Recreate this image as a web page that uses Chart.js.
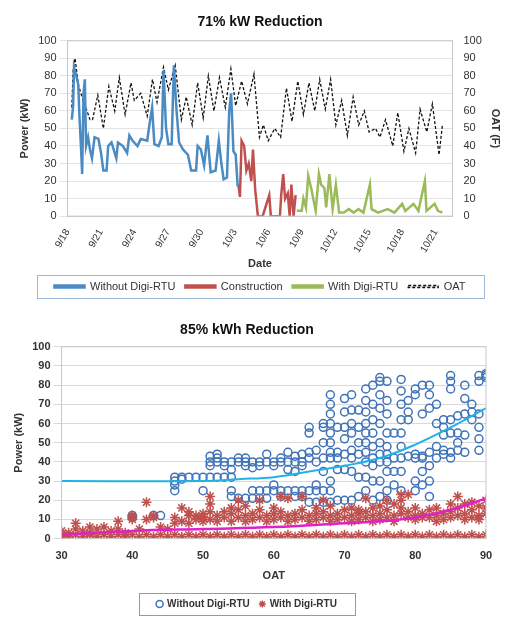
<!DOCTYPE html>
<html>
<head>
<meta charset="utf-8">
<script src="https://cdn.jsdelivr.net/npm/chart.js@4/dist/chart.umd.min.js"></script>
<style>
body { margin:0; background:#fff; }
#top { position:absolute; left:0; top:0; width:514px; height:318px; }
#bot { position:absolute; left:0; top:312px; width:514px; height:313px; }
</style>
</head>
<body>
<div id="top"><canvas id="kwGraph"></canvas></div>
<div id="bot"><canvas id="oatGraph"></canvas></div>
<script>
// ---- top chart: days after 9/18 ----
const dateLabels = ['9/18','9/21','9/24','9/27','9/30','10/3','10/6','10/9','10/12','10/15','10/18','10/21'];

const oatDays = [0.38,0.5,0.67,0.79,0.96,1.2,1.55,1.75,2.01,2.24,2.71,3.21,3.7,4.23,4.64,5.16,5.69,5.98,6.56,7.14,7.61,8.02,8.6,9.04,9.65,10.2,10.64,11.17,11.66,12.16,12.62,13.12,13.62,14.14,14.64,15.07,15.6,16.12,16.71,17.2,17.55,17.99,18.57,19.1,19.62,20.12,20.64,21.14,21.64,22.16,22.6,23.1,23.58,24.05,24.57,25.08,25.6,26.1,26.6,27.03,27.6,28.0,28.5,29.15,29.6,30.15,30.6,31.2,31.6,32.2,32.7,33.3,33.6];
const oatVals = [62,83,90,84,75,70,63,60,55,55,69,50,74,60,79,58,76,66,70,57,78,65,85,72,86,55,68,52,76,56,80,60,79,62,84,63,77,64,81,45,52,43,50,45,73,54,77,58,76,60,78,61,78,52,66,46,68,52,60,48,50,45,55,40,59,37,50,36,61,48,64,35,52];

const blueDays = [0.38,0.5,0.58,0.79,0.96,1.08,1.2,1.31,1.43,1.55,1.66,1.84,2.01,2.19,2.42,2.77,3.0,3.21,3.5,3.64,3.94,4.37,4.52,4.96,5.34,5.54,5.83,6.27,6.56,7.14,7.29,7.58,7.78,8.16,8.45,8.6,8.83,9.04,9.33,9.53,9.77,10.0,10.35,10.79,11.08,11.52,11.66,11.95,12.24,12.54,12.83,13.27,13.56,13.79,13.99,14.29,14.49,14.66,14.87,15.07,15.25];
const blueVals = [55,63,85,80,75,55,40,24,70,78,40,45,38,33,45,44,36,26,26,40,42,33,42,40,36,46,43,40,44,43,50,62,41,40,45,83,50,41,41,86,60,42,38,35,26,26,40,38,29,46,25,26,43,30,21,22,60,70,37,35,17];

const redDays = [15.31,15.45,15.6,15.83,16.03,16.24,16.47,16.62,16.82,17.06,17.49,18.08,18.22,19.04,19.15,19.33,19.5,19.74,19.91,20.06,20.26,20.44];
const redVals = [18,11,43,40,26,30,20,38,15,0,0,12,0,0,12,24,10,13,0,18,0,12];

const greenDays = [20.55,20.99,21.14,21.37,21.57,21.87,22.24,22.53,22.73,23.02,23.18,23.47,23.76,24.05,24.34,24.77,25.21,25.65,26.08,26.52,27.1,27.25,27.83,28.7,29.3,29.99,30.28,31.01,31.45,32.03,32.17,32.9,33.2,33.6];
const greenVals = [3,3,10,5,23,15,3,24,18,16,5,24,4,18,2,2,4,2,4,2,18,4,2,4,2,7,3,7,3,20,3,7,3,2];

// ---- bottom chart: power vs OAT, [OAT, [kW...]] ----
const withoutCols = [[46,[32,30,28,25]],[47,[32,31]],[48,[32]],[49,[32]],[50,[32,25]],[51,[32,40,43,38]],[52,[40,44,32,42]],[53,[40,38,32]],[54,[40,36,32,25,22]],[55,[40,42,21]],[56,[40,38,42,21]],[57,[40,37,25,21]],[58,[40,38,25,21]],[59,[40,44,25,21]],[60,[40,38,25,28]],[61,[40,42,25,22]],[62,[40,45,36,25]],[63,[40,43,35,25,22]],[64,[40,44,38,25,22]],[65,[42,55,58,45,25,19]],[66,[40,46,28,25,19]],[67,[42,58,60,50,35,25,19]],[68,[42,75,70,65,60,55,50,45,30,25,19]],[69,[42,58,45,36,20]],[70,[44,73,66,58,52,36,20]],[71,[42,75,67,60,55,46,35,20]],[72,[44,67,58,50,32,22]],[73,[45,78,72,66,60,55,50,40,32,25]],[74,[42,80,70,62,55,48,38,30,20]],[75,[44,84,82,75,68,60,50,40,30,22]],[76,[44,82,72,65,55,48,40,35,25,20]],[77,[42,55,35,28]],[78,[42,83,77,70,62,55,48,35,25]],[79,[43,72,66,62]],[80,[42,78,75,44,30,25]],[81,[42,80,65,43,35,28]],[82,[80,75,68,45,38,30,22]],[83,[70,48,60,42]],[84,[62,58,54,46,44]],[85,[85,82,78,62,55,45,42]],[86,[55,50,46,64]],[87,[80,73,65,54,45]],[88,[70,62,66]],[89,[85,82,65,58,52,46]],[90,[86,85,84]],[40,[11,12]],[43,[12]],[44,[12]]];
const withCols = [[30,[2,0,4]],[31,[1,3]],[32,[2,8,5]],[33,[1,4]],[34,[2,6,3]],[35,[1,5]],[36,[2,6]],[37,[1,4]],[38,[2,9,5]],[39,[1,3]],[40,[2,11,12,10]],[41,[1,5]],[42,[2,19,10]],[43,[1,12,11]],[44,[2,6]],[45,[1,5]],[46,[2,8,11]],[47,[1,9,16]],[48,[2,12,8,14]],[49,[1,12,10]],[50,[2,11,13,9]],[51,[1,10,14,22,18]],[52,[2,12,9]],[53,[1,11,14]],[54,[2,13,9,16]],[55,[1,11,15,20]],[56,[2,12,9,17]],[57,[1,13,10]],[58,[2,11,15,20]],[59,[1,12,9]],[60,[2,13,10,16]],[61,[1,11,14,22]],[62,[2,12,9,21]],[63,[1,13,10]],[64,[2,11,15,22]],[65,[1,12,9]],[66,[2,13,10,16]],[67,[1,11,14,20]],[68,[2,12,9,17]],[69,[1,13,10]],[70,[2,11,15]],[71,[1,12,9,16]],[72,[2,13,10,15]],[73,[1,11,14,21]],[74,[2,12,9,16]],[75,[1,13,10,17]],[76,[2,11,15,20]],[77,[1,12,9,18]],[78,[2,13,16,23,20]],[79,[1,11,14,23]],[80,[2,12,10,16]],[81,[1,13,11]],[82,[2,11,15]],[83,[1,12,9,16]],[84,[2,13,10]],[85,[1,11,14,18]],[86,[2,12,16,22]],[87,[1,13,10,18]],[88,[2,11,15,19]],[89,[1,12,10,17]],[90,[2,13,16,20]]];

const blueTrendX = [30,50,55,60,65,70,75,80,85,90];
const blueTrendY = [30,30,31,32,35,38,42,49,58,68];
const redTrendX = [30,40,50,60,70,75,80,85,90];
const redTrendY = [2,4,5,6,8,9,11,15,21];

Chart.defaults.font.family = "'Liberation Sans', Arial, sans-serif";
Chart.defaults.color = '#333';

function pairs(xs, ys) {
    return xs.map((x, i) => ({x: x, y: ys[i]}));
}
function flatten(cols) {
    let out = [];
    cols.forEach(c => c[1].forEach(v => out.push({x: c[0], y: v})));
    return out;
}

// box around the plot, and a box around the legend items only
const boxPlugin = {
    id: 'boxes',
    afterDraw(chart) {
        const ctx = chart.ctx;
        const a = chart.chartArea;
        const l = chart.legend;
        ctx.save();
        ctx.strokeStyle = '#c8c8c8';
        ctx.lineWidth = 1;
        ctx.strokeRect(a.left, a.top, a.right - a.left, a.bottom - a.top);
        const hb = l.legendHitBoxes;
        if (hb && hb.length) {
            let x0 = Math.min(...hb.map(b => b.left)) - 18;
            let x1 = Math.max(...hb.map(b => b.left + b.width)) + 18;
            let y0 = Math.min(...hb.map(b => b.top)) - 6;
            let y1 = Math.max(...hb.map(b => b.top + b.height)) + 6;
            ctx.strokeStyle = chart.canvas.id === 'kwGraph' ? '#9db8d8' : '#999';
            ctx.strokeRect(Math.round(x0) + 0.5, Math.round(y0) + 0.5, Math.round(x1 - x0), Math.round(y1 - y0));
        }
        ctx.restore();
    }
};

const lineBase = { pointRadius: 0, borderWidth: 2.5, tension: 0 };

new Chart(document.getElementById('kwGraph'), {
    type: 'line',
    data: {
        datasets: [
            Object.assign({ label: 'Without Digi-RTU', data: pairs(blueDays, blueVals), borderColor: '#4a8bc4', yAxisID: 'y' }, lineBase),
            Object.assign({ label: 'Construction', data: pairs(redDays, redVals), borderColor: '#c0504d', yAxisID: 'y' }, lineBase),
            Object.assign({ label: 'With Digi-RTU', data: pairs(greenDays, greenVals), borderColor: '#9bbb59', yAxisID: 'y' }, lineBase),
            { label: 'OAT', data: pairs(oatDays, oatVals), borderColor: '#111', borderWidth: 1.3, borderDash: [3, 2], pointRadius: 0, tension: 0, yAxisID: 'y1' }
        ]
    },
    options: {
        animation: false,
        responsive: true,
        maintainAspectRatio: false,
        layout: { padding: { left: 14, right: 8, top: 0, bottom: 16 } },
        plugins: {
            title: { display: true, text: '71% kW Reduction', font: { size: 14, weight: 'bold' }, color: '#111', padding: { top: 14, bottom: 10 } },
            legend: {
                position: 'bottom',
                labels: { boxWidth: 30, boxHeight: 2, font: { size: 11 }, padding: 10 }
            }
        },
        scales: {
            x: {
                type: 'linear', min: 0, max: 34.5,
                ticks: {
                    stepSize: 3, maxRotation: 60, minRotation: 60, font: { size: 10 },
                    callback: (v) => dateLabels[v / 3] || ''
                },
                grid: { display: false },
                title: { display: true, text: 'Date', font: { size: 11, weight: 'bold' }, padding: 0 }
            },
            y: {
                min: 0, max: 100, position: 'left',
                ticks: { stepSize: 10, font: { size: 11 } },
                grid: { color: '#e4e4e4' },
                title: { display: true, text: 'Power (kW)', font: { size: 11, weight: 'bold' } }
            },
            y1: {
                min: 0, max: 100, position: 'right',
                ticks: { stepSize: 10, font: { size: 11 } },
                grid: { display: false },
                title: { display: true, text: 'OAT (F)', font: { size: 11, weight: 'bold' } }
            }
        }
    },
    plugins: [boxPlugin]
});

new Chart(document.getElementById('oatGraph'), {
    type: 'scatter',
    data: {
        datasets: [
            { label: 'Without Digi-RTU', data: flatten(withoutCols), pointStyle: 'circle', pointRadius: 4, borderColor: '#3f73b8', backgroundColor: 'rgba(0,0,0,0)', borderWidth: 1.5, order: 3 },
            { label: 'With Digi-RTU', data: flatten(withCols), pointStyle: 'star', pointRadius: 5, borderColor: '#c0504d', backgroundColor: '#c0504d', borderWidth: 1.5, order: 2 },
            { label: 'trend1', type: 'line', data: pairs(blueTrendX, blueTrendY), borderColor: '#1fb3e8', borderWidth: 2, pointRadius: 0, tension: 0.4, order: 1 },
            { label: 'trend2', type: 'line', data: pairs(redTrendX, redTrendY), borderColor: '#e020c8', borderWidth: 2.5, pointRadius: 0, tension: 0.4, order: 0 }
        ]
    },
    options: {
        animation: false,
        responsive: true,
        maintainAspectRatio: false,
        layout: { padding: { left: 8, right: 28, top: 0, bottom: 6 } },
        plugins: {
            title: { display: true, text: '85% kWh Reduction', font: { size: 14, weight: 'bold' }, color: '#111', padding: { top: 10, bottom: 8 } },
            legend: {
                position: 'bottom',
                labels: {
                    usePointStyle: true, boxWidth: 5, boxHeight: 5, font: { size: 10, weight: 'bold' }, padding: 10,
                    filter: (item) => item.text.indexOf('trend') !== 0,
                    sort: (a, b) => a.datasetIndex - b.datasetIndex
                }
            }
        },
        scales: {
            x: {
                type: 'linear', min: 30, max: 90,
                ticks: { stepSize: 10, font: { size: 11, weight: 'bold' } },
                grid: { display: false },
                title: { display: true, text: 'OAT', font: { size: 11, weight: 'bold' }, padding: { top: 4, bottom: 6 } }
            },
            y: {
                min: 0, max: 100,
                ticks: { stepSize: 10, font: { size: 11, weight: 'bold' } },
                grid: { color: '#d9d9d9' },
                title: { display: true, text: 'Power (kW)', font: { size: 11, weight: 'bold' } }
            }
        }
    },
    plugins: [boxPlugin]
});
</script>
</body>
</html>
